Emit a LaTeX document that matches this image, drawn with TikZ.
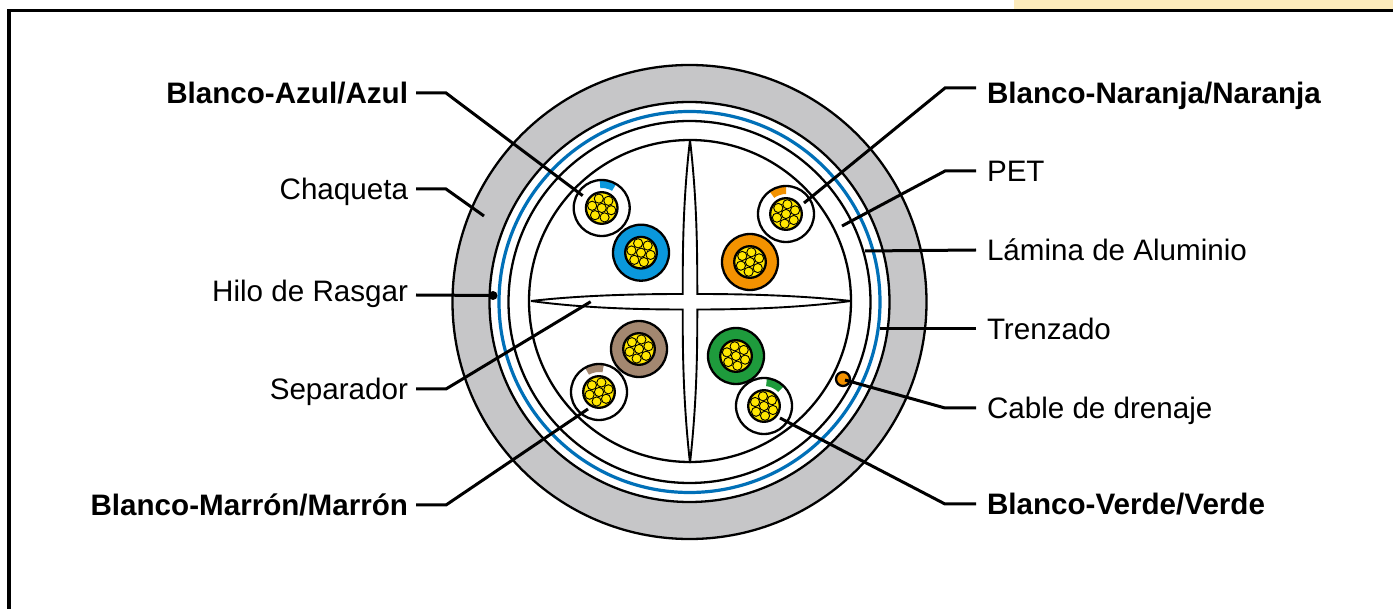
\documentclass[tikz,border=0pt]{standalone}
\usepackage{fontspec}
\setmainfont{Liberation Sans}
\definecolor{cblue}{HTML}{0A98DC}
\definecolor{corange}{HTML}{F39200}
\definecolor{cgreen}{HTML}{1E9B3C}
\definecolor{cbrown}{HTML}{A38770}
\definecolor{cyellow}{HTML}{FFE600}
\definecolor{cgray}{HTML}{C6C6C8}
\definecolor{cring}{HTML}{0070B8}
\definecolor{ccream}{HTML}{FCEBBB}
\tikzset{
  ring/.style={draw=black,line width=2.3pt},
  strand/.style={draw=black,line width=0.9pt,fill=cyellow},
  leader/.style={draw=black,line width=3pt,line join=miter},
  lblleft/.style={anchor=east,inner xsep=8pt,inner ysep=0pt,outer sep=0pt,text height=21pt,text depth=0pt,font=\fontsize{29.6}{32}\selectfont},
  lblright/.style={anchor=west,inner xsep=11pt,inner ysep=0pt,outer sep=0pt,text height=21pt,text depth=0pt,font=\fontsize{29.6}{32}\selectfont},
  sep/.style={draw=black,line width=1.9pt,line join=miter}
}
\newcommand{\bundle}[3]{%
  \draw[ring,fill=cyellow] (#1,#2) circle[radius=15.8pt];
  \draw[strand] (#1,#2) circle[radius=4.6pt];
  \foreach \k in {0,...,5}{\draw[strand] (#1,#2) ++({#3+60*\k}:9.8pt) circle[radius=4.6pt];}
}
\newcommand{\solidwire}[4]{%
  \draw[ring,fill=#3] (#1,#2) circle[radius=28pt];
  \bundle{#1}{#2}{#4}
}
\newcommand{\whitewire}[6]{%
  \path[fill=#3] (#1,#2) ++(#5:27.5pt) arc[start angle=#5,end angle=#6,radius=27.5pt]
    -- ([shift={(#6:20pt)}]#1,#2) arc[start angle=#6,end angle=#5,radius=20pt] -- cycle;
  \draw[ring] (#1,#2) circle[radius=28pt];
  \bundle{#1}{#2}{#4}
}
\begin{document}
\begin{tikzpicture}[x=1pt,y=-1pt]
\useasboundingbox (0,0) rectangle (1393,609);
% frame
\fill[ccream] (1014,0) rectangle (1393,9);
\fill[black] (7,9) rectangle (1393,12.5);
\fill[black] (7,9) rectangle (10.5,609);
% cable rings
\draw[ring,fill=cgray] (689.5,302) circle[radius=237pt];
\draw[ring,fill=white] (689.5,302) circle[radius=200pt];
\draw[draw=cring,line width=3.2pt] (689.5,302) circle[radius=190.5pt];
\draw[ring] (689.5,302) circle[radius=181pt];
\draw[ring] (690,301) circle[radius=161pt];
% separator
\draw[sep] (690,140) .. controls (683,200) and (682.7,250) .. (682.7,294) .. controls (625,294) and (575,296) .. (531,301);
\draw[sep] (690,140) .. controls (697,200) and (697.3,250) .. (697.3,294) .. controls (755,294) and (805,296) .. (851,301);
\draw[sep] (690,463) .. controls (683,400) and (682.7,350) .. (682.7,309.5) .. controls (625,309.5) and (575,307) .. (531,301);
\draw[sep] (690,463) .. controls (697,400) and (697.3,350) .. (697.3,309.5) .. controls (755,309.5) and (805,307) .. (851,301);
% wires
\whitewire{601.7}{208}{cblue}{47}{94}{59}
\solidwire{641}{252.7}{cblue}{47}
\whitewire{786}{214}{corange}{22}{126}{90}
\solidwire{750}{262}{corange}{22}
\solidwire{639}{349}{cbrown}{16}
\whitewire{599}{392}{cbrown}{16}{120}{80}
\solidwire{736}{356}{cgreen}{38}
\whitewire{764}{406}{cgreen}{36}{84}{45}
% drain wire and rip cord
\draw[ring,fill=corange] (843,379) circle[radius=7pt];
\fill[black] (493,295.5) circle[radius=4.5pt];
% labels
\node[lblleft,font=\fontsize{29.6}{32}\selectfont\bfseries] (azul) at (416,93) {Blanco-Azul/Azul};
\node[lblleft] (chaq) at (416,189) {Chaqueta};
\node[lblleft] (hilo) at (416,291) {Hilo de Rasgar};
\node[lblleft] (sepa) at (416,389) {Separador};
\node[lblleft,font=\fontsize{29.6}{32}\selectfont\bfseries] (marr) at (416,505) {Blanco-Marrón/Marrón};
\node[lblright,font=\fontsize{29.6}{32}\selectfont\bfseries] (nara) at (976,93) {Blanco-Naranja/Naranja};
\node[lblright] (pet) at (976,171) {PET};
\node[lblright] (lam) at (976,250) {Lámina de Aluminio};
\node[lblright] (tren) at (976,329) {Trenzado};
\node[lblright] (dren) at (976,408) {Cable de drenaje};
\node[lblright,font=\fontsize{29.6}{32}\selectfont\bfseries] (verd) at (976,504) {Blanco-Verde/Verde};
% leader ends
\coordinate (eazul) at (582.7,195.7);
\coordinate (echaq) at (484,216);
\coordinate (ehilo) at (493,295.5);
\coordinate (esepa) at (590.7,301.7);
\coordinate (emarr) at (588,409);
\coordinate (enara) at (804,203);
\coordinate (epet) at (842,226);
\coordinate (elam) at (865,251);
\coordinate (etren) at (880,329);
\coordinate (edren) at (845,380);
\coordinate (everd) at (780,418);
% leaders
\draw[leader] (azul.east) -- ++(30,0) -- (eazul);
\draw[leader] (chaq.east) -- ++(30,0) -- (echaq);
\draw[leader] ([yshift=-4pt]hilo.east) -- (ehilo);
\draw[leader] (sepa.east) -- ++(30,0) -- (esepa);
\draw[leader] (marr.east) -- ++(30,0) -- (emarr);
\draw[leader] ([yshift=5pt]nara.west) -- ++(-31,0) -- (enara);
\draw[leader] (pet.west) -- ++(-31,0) -- (epet);
\draw[leader] (lam.west) -- (elam);
\draw[leader] (tren.west) -- (etren);
\draw[leader] (dren.west) -- ++(-31,0) -- (edren);
\draw[leader] (verd.west) -- ++(-31,0) -- (everd);
\end{tikzpicture}
\end{document}
